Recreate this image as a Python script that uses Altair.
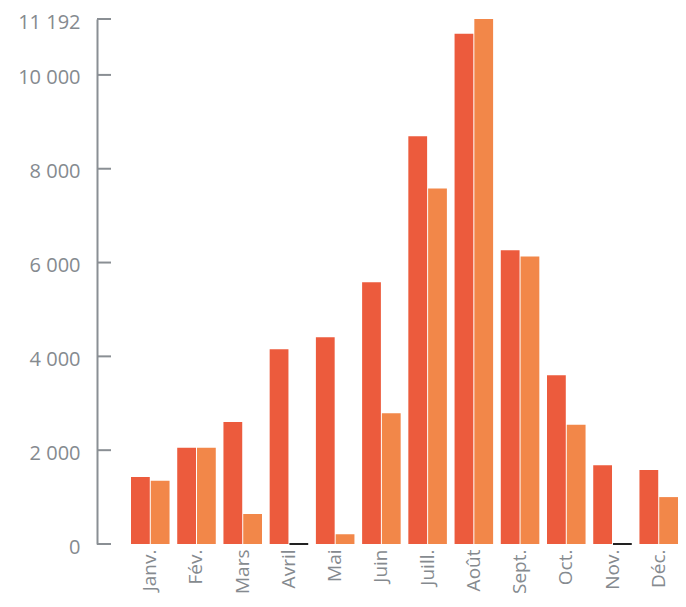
import altair as alt
import pandas as pd

months = ["Janv.", "Fév.", "Mars", "Avril", "Mai", "Juin", "Juill.", "Août", "Sept.", "Oct.", "Nov.", "Déc."]
serie1 = [1430, 2050, 2600, 4150, 4410, 5580, 8690, 10880, 6260, 3600, 1680, 1580]
serie2 = [1350, 2050, 640, 0, 210, 2790, 7580, 11192, 6130, 2540, 0, 1000]
series_names = ["Série 1", "Série 2"]
colors = ["#EC5B3D", "#F28749"]
y_ticks = [0, 2000, 4000, 6000, 8000, 10000, 11192]

rows = []
for m, a, b in zip(months, serie1, serie2):
    rows.append({"mois": m, "serie": series_names[0], "valeur": a})
    rows.append({"mois": m, "serie": series_names[1], "valeur": b})
df = pd.DataFrame(rows)
ticks_df = pd.DataFrame({"v": y_ticks})

GRAY = "#858a8f"
FONT = "Open Sans"

x_enc = alt.X(
    "mois:N",
    sort=months,
    scale=alt.Scale(paddingInner=0.166, paddingOuter=0.3678, align=1),
    axis=alt.Axis(
        title=None, labelAngle=-90, domain=False, ticks=False, labelPadding=5,
        labelFont=FONT, labelFontSize=19, labelColor=GRAY,
    ),
)
y_scale = alt.Scale(domain=[0, 11192], nice=False)
y_axis = alt.Axis(
    title=None, values=y_ticks, grid=False, ticks=False, tickSize=0,
    labelExpr="replace(format(datum.value, ',d'), ',', ' ')",
    labelPadding=17, labelFont=FONT, labelFontSize=20, labelColor=GRAY,
    labelOffset=3, domainColor="#8a8f94", domainWidth=2,
)
xoff = alt.XOffset("serie:N", sort=series_names, scale=alt.Scale(paddingInner=0.05))

bars = alt.Chart(df).transform_filter("datum.valeur > 0").mark_bar().encode(
    x=x_enc,
    xOffset=xoff,
    y=alt.Y("valeur:Q", scale=y_scale, axis=y_axis),
    color=alt.Color("serie:N", scale=alt.Scale(domain=series_names, range=colors), legend=None),
)

zeros = alt.Chart(df).transform_filter("datum.valeur == 0").mark_bar(
    stroke="#222222", strokeWidth=2, fill="#222222"
).encode(
    x=x_enc,
    xOffset=xoff,
    y=alt.Y("valeur:Q", scale=y_scale, axis=y_axis),
)

tick_rules = alt.Chart(ticks_df).mark_rule(color="#8a8f94", strokeWidth=2).encode(
    y=alt.Y("v:Q", scale=y_scale, axis=y_axis),
    x=alt.value(0),
    x2=alt.value(14),
)

chart = alt.layer(bars, zeros, tick_rules).properties(
    width=581,
    height=525,
    autosize=alt.AutoSizeParams(type="none"),
    padding={"left": 89, "top": 11, "right": 0, "bottom": 50},
).configure_view(strokeWidth=0)

chart.save("out.html", embed_options={"renderer": "svg", "actions": False})
